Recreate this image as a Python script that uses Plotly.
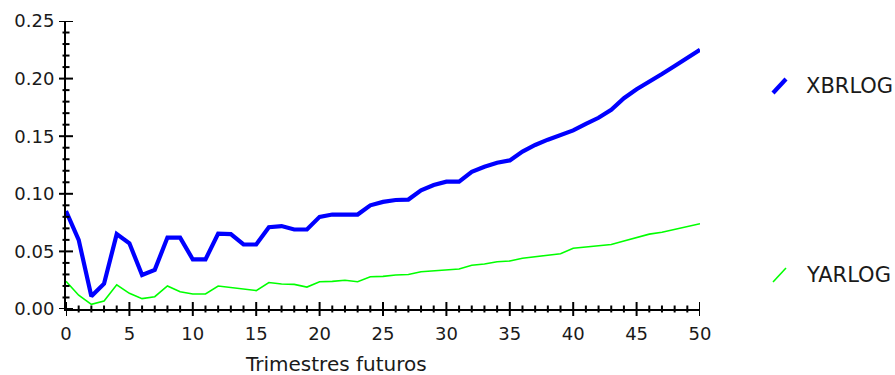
import plotly.graph_objects as go

# Horizon (quarters ahead)
trimestres = list(range(0, 51))

# Series values per quarter
xbrlog = [0.085, 0.060, 0.011, 0.022, 0.065, 0.057, 0.0295, 0.034, 0.062, 0.062,
          0.043, 0.043, 0.0655, 0.065, 0.056, 0.056, 0.071, 0.072, 0.069, 0.069,
          0.080, 0.082, 0.082, 0.082, 0.090, 0.093, 0.0946, 0.095, 0.103, 0.1076,
          0.1105, 0.1105, 0.119, 0.1235, 0.127, 0.129, 0.1366, 0.1424, 0.147, 0.151,
          0.155, 0.1606, 0.166, 0.173, 0.183, 0.1907, 0.197, 0.204, 0.211, 0.2176,
          0.225]
yarlog = [0.024, 0.012, 0.004, 0.007, 0.021, 0.0136, 0.009, 0.0107, 0.020, 0.015,
          0.013, 0.013, 0.020, 0.0185, 0.0174, 0.016, 0.023, 0.0217, 0.0214, 0.019,
          0.0237, 0.024, 0.025, 0.0237, 0.028, 0.0283, 0.0295, 0.030, 0.0324, 0.033,
          0.0339, 0.0347, 0.038, 0.039, 0.041, 0.0417, 0.044, 0.0454, 0.047, 0.048,
          0.0527, 0.054, 0.055, 0.056, 0.059, 0.062, 0.065, 0.0666, 0.069, 0.0714,
          0.074]

series_names = ["XBRLOG", "YARLOG"]
series_colors = ["#0000ff", "#00ff00"]
series_widths = [4.2, 1.6]

x_ticks = [0, 5, 10, 15, 20, 25, 30, 35, 40, 45, 50]
y_ticks = [0.00, 0.05, 0.10, 0.15, 0.20, 0.25]
y_labels = ["0.00", "0.05", "0.10", "0.15", "0.20", "0.25"]
x_minor = [v for v in range(0, 51) if v % 5]
y_minor = [round(k * 0.01, 2) for k in range(0, 26) if k % 5]

FONT = "DejaVu Sans"
INK = "#1a1a1a"

fig = go.Figure()
for name, vals, col, w in zip(series_names, [xbrlog, yarlog], series_colors, series_widths):
    fig.add_trace(go.Scatter(x=trimestres, y=vals, mode="lines", name=name,
                             line=dict(color=col, width=w), showlegend=False))

fig.update_layout(
    template="none",
    width=895, height=375,
    margin=dict(l=66, r=195, t=21, b=66),
    paper_bgcolor="white", plot_bgcolor="white",
    font=dict(family=FONT, size=18, color=INK),
    xaxis=dict(range=[0, 50], tickmode="array", tickvals=x_ticks,
               ticks="outside", ticklen=7, tickcolor="rgba(0,0,0,0)",
               tickfont=dict(size=18, color=INK),
               showgrid=False, zeroline=False, showline=True,
               linecolor="black", linewidth=2),
    yaxis=dict(range=[0, 0.25], tickmode="array", tickvals=y_ticks, ticktext=y_labels,
               ticks="outside", ticklen=6, tickcolor="rgba(0,0,0,0)",
               tickfont=dict(size=18, color=INK),
               showgrid=False, zeroline=False, showline=True,
               linecolor="black", linewidth=2),
)

# Tick marks crossing the axis lines (major and minor), placed on the data axes
def x_tick(v, half):
    fig.add_shape(type="line", xref="x", yref="paper", ysizemode="pixel", yanchor=0,
                  x0=v, x1=v, y0=-half, y1=half, layer="above",
                  line=dict(color="black", width=2))

def y_tick(v, half):
    fig.add_shape(type="line", yref="y", xref="paper", xsizemode="pixel", xanchor=0,
                  y0=v, y1=v, x0=-half, x1=half, layer="above",
                  line=dict(color="black", width=2))

for v in x_ticks:
    x_tick(v, 7)
for v in x_minor:
    x_tick(v, 3.5)
for v in y_ticks:
    y_tick(v, 7)
for v in y_minor:
    y_tick(v, 3.5)

# X-axis title
fig.add_annotation(text="Trimestres futuros", xref="paper", yref="paper",
                   x=(335.5 - 66) / 634, y=-(364 - 309) / 288,
                   showarrow=False, xanchor="center", yanchor="middle",
                   font=dict(family=FONT, size=20, color=INK))

# Legend entries: slanted swatch + label
legend_rows = [(86, 79, 93), (275, 268, 282)]
for name, col, w, (ty, y0, y1) in zip(series_names, series_colors, series_widths, legend_rows):
    fig.add_shape(type="line", xref="paper", yref="paper",
                  x0=(773 - 66) / 634, y0=(309 - y1) / 288,
                  x1=(786 - 66) / 634, y1=(309 - y0) / 288,
                  line=dict(color=col, width=w))
    fig.add_annotation(text=name, xref="paper", yref="paper",
                       x=(804 - 66) / 634, y=(309 - ty) / 288,
                       showarrow=False, xanchor="left", yanchor="middle",
                       font=dict(family=FONT, size=21, color=INK))

fig.write_html("out.html")
